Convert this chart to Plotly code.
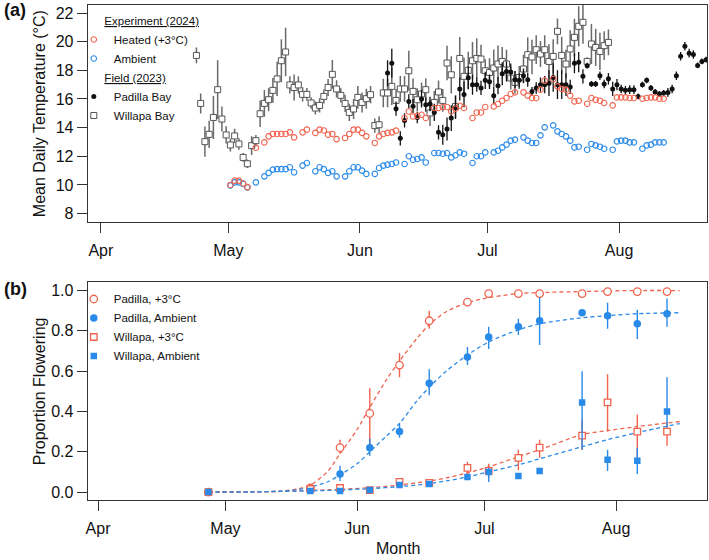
import pandas as pd
import plotly.graph_objects as go

# ---------------- Panel (a) data: daily means ----------------
exp_start = "2024-05-01"
heated = [10.0, 10.3, 10.3, 10.1, 9.85, None, 12.6, None, 12.97, 13.39,
          13.56, 13.56, 13.56, 13.56, 13.67, 13.32, None, 13.67, 13.86, None,
          13.63, 13.86, 13.8, 13.51, 13.56, 13.2, None, 13.28, 13.56, 13.86,
          13.86, 13.63, 13.39, None, 12.93, 13.39, 13.56, 13.63, 13.67, 13.79,
          None, 14.67, 15.13, 14.78, 14.83, 14.9, 14.67, None, 15.37, 15.37,
          15.44, 15.44, 15.13, 15.32, 15.53, 15.37, None, 14.67, 15.06, 15.06,
          15.44, None, 15.48, 15.65, 15.88, 16.07, 16.35, 16.46, None, 16.46,
          16.23, 16.07, 16.07, 16.65, 17.28, None, 17.39, 16.88, 16.7, 16.65,
          16.23, 15.83, 15.88, None, 15.67, 16.07, 15.95, 15.88, 15.72, None,
          15.55, 16.11, 16.11, 16.11, 16.07, 16.07, None, 16.02, 16.07, 16.11,
          16.11, 16.02, 16.02]
ambient = [9.97, 10.18, 10.18, 10.07, 9.83, None, 10.18, None, 10.6, 10.84,
           11.07, 11.1, 11.1, 11.1, 11.23, 10.88, None, 11.35, 11.53, None,
           10.95, 11.23, 11.1, 10.84, 10.95, 10.6, None, 10.6, 10.95, 11.23,
           11.23, 11.0, 10.77, None, 10.77, 11.18, 11.35, 11.42, 11.46, 11.57,
           None, 11.46, 12.0, 11.76, 11.81, 11.92, 11.57, None, 12.23, 12.23,
           12.18, 12.23, 11.92, 12.07, 12.27, 12.18, None, 11.53, 12.0, 12.0,
           12.27, None, 12.27, 12.39, 12.62, 12.81, 13.09, 13.16, None, 13.32,
           13.09, 12.93, 12.93, 13.46, 14.02, None, 14.16, 13.74, 13.56, 13.39,
           13.09, 12.62, 12.67, None, 12.46, 12.86, 12.76, 12.67, 12.53, None,
           12.46, 13.04, 13.09, 13.09, 12.97, 12.97, None, 12.53, 12.76, 12.81,
           12.97, 12.97, 12.97]

willapa_start = "2024-04-23"
willapa = [19.04, 15.69, 13.02, 13.53, 14.71, 16.65, 14.6, 13.49, 12.79, 13.42,
           12.86, 11.92, 11.48, 12.74, 13.09, 14.97, 15.69, 15.95, 16.6, 17.4,
           18.67, 19.28, 16.98, 16.8, 16.98, 16.32, 16.32, 15.72, 15.37, 15.55,
           16.18, 16.8, 17.72, 16.7, 16.25, 15.69, 15.06, 15.3, 16.11, 15.76,
           16.02, 16.3, 14.14, 14.2, 16.42, 16.42, 16.88, 15.9, 16.7, 16.7,
           17.97, 16.53, 15.95, 16.35, 16.65, 15.02, 15.76, 16.49, 15.9, 18.51,
           17.69, 15.48, 18.83, 17.58, 18.0, 18.67, 18.83, 18.79, 17.97, 17.85,
           18.16, 18.44, 18.62, 18.44, 17.46, 17.16, 17.5, 18.09, 19.09, 18.93,
           19.44, 19.14, 19.44, 18.62, 18.97, 20.72, 19.04, 18.44, 19.49, 20.3,
           21.07, 21.35, 18.62, 19.84, 19.6, 19.32, 19.72, 19.95]
willapa_err = [0.55, 0.7, 1.05, 0.95, 1.5, 2.05, 0.87, 0.6, 0.45, 0.5,
               0.4, 0.3, 0.3, 0.65, 0.4, 0.93, 0.93, 0.8, 0.87, 1.2,
               1.5, 1.7, 0.6, 0.9, 0.6, 0.5, 0.45, 0.4, 0.45, 0.5,
               0.5, 0.6, 1.0, 0.6, 0.5, 0.6, 0.6, 0.7, 0.8, 0.7,
               0.7, 0.6, 0.5, 0.6, 1.0, 1.0, 1.3, 0.8, 0.9, 0.9,
               1.4, 0.9, 0.8, 0.8, 0.8, 0.9, 0.8, 0.8, 0.8, 1.2,
               1.3, 0.8, 1.5, 1.3, 1.3, 1.3, 1.4, 1.0, 0.8, 1.0,
               1.3, 1.3, 1.0, 1.0, 0.8, 0.8, 0.8, 1.0, 1.2, 1.2,
               1.0, 0.9, 1.0, 1.2, 1.2, 0.9, 1.3, 1.0, 1.3, 1.3,
               1.4, 1.5, 0.3, 1.4, 1.3, 1.3, 1.0, 0.9]

padilla_start = "2024-06-07"
padilla = [17.81, 18.5, 15.32, 13.25, 14.5, 15.83, 15.5, 14.71, 16.0, 15.6,
           15.65, 15.06, 13.67, 13.5, 13.9, 14.67, 15.4, 16.7, 16.32, 17.48,
           17.0, 17.0, 16.77, 17.3, 17.2, 16.23, 16.93, 17.76, 17.92, 17.88,
           17.35, 17.3, 17.62, 17.35, 16.53, 16.77, 17.0, 17.0, 17.1, 17.5,
           17.0, 17.0, 17.0, 16.84, 18.5, 18.57, 17.58, 18.32, 17.05, 17.05,
           17.62, 17.05, 17.41, 16.7, 17.0, 16.7, 16.6, 16.65, 16.65, 16.18,
           17.0, 17.3, 16.77, 16.49, 16.35, 16.42, 16.46, 16.7, 17.62, 18.98,
           19.68, 19.2, 19.1, 18.34, 18.62, 18.74]
padilla_err = [0.9, 1.0, 0.5, 0.5, 0.5, 0.5, 0.5, 0.4, 0.6, 0.5,
               0.5, 0.6, 0.5, 0.7, 0.8, 0.9, 0.8, 0.8, 0.9, 0.8,
               0.7, 0.5, 0.5, 0.6, 0.5, 0.6, 0.6, 0.8, 0.7, 0.6,
               0.6, 0.5, 0.5, 0.5, 0.3, 0.4, 0.5, 0.6, 0.9, 1.0,
               1.0, 1.0, 0.8, 0.5, 0.7, 0.7, 0.5, 0.2, 0.2, 0.2,
               0.3, 0.3, 0.4, 0.5, 0.4, 0.3, 0.3, 0.3, 0.3, 0.2,
               0.2, 0.2, 0.2, 0.2, 0.2, 0.2, 0.3, 0.3, 0.3, 0.3,
               0.3, 0.3, 0.3, 0.2, 0.2, 0.2]

# ---------------- Panel (b) data: proportion flowering ----------------
b_dates = ["2024-04-27", "2024-05-21", "2024-05-28", "2024-06-04", "2024-06-11",
           "2024-06-18", "2024-06-27", "2024-07-02", "2024-07-09", "2024-07-14",
           "2024-07-24", "2024-07-30", "2024-08-06", "2024-08-13"]
pad_heat = [0.0, 0.02, 0.22, 0.39, 0.63, 0.85, 0.943, 0.985, 0.985, 0.985, 0.985, 0.995, 0.995, 0.995]
pad_heat_up = [0, 0.01, 0.04, 0.125, 0.06, 0.05, 0.01, 0.01, 0.008, 0.008, 0.008, 0.005, 0.005, 0.005]
pad_heat_dn = [0, 0.01, 0.03, 0.16, 0.06, 0.04, 0.01, 0.01, 0.008, 0.008, 0.008, 0.005, 0.005, 0.005]
pad_amb = [0.0, 0.01, 0.09, 0.22, 0.30, 0.54, 0.67, 0.77, 0.82, 0.85, 0.89, 0.875, 0.835, 0.885]
pad_amb_up = [0, 0.005, 0.04, 0.045, 0.04, 0.07, 0.05, 0.05, 0.04, 0.115, 0.01, 0.065, 0.07, 0.075]
pad_amb_dn = [0, 0.005, 0.035, 0.04, 0.03, 0.06, 0.04, 0.06, 0.04, 0.12, 0.01, 0.065, 0.075, 0.065]
wil_heat = [0.0, 0.015, 0.02, 0.01, 0.05, 0.045, 0.12, 0.105, 0.17, 0.22, 0.28, 0.445, 0.30, 0.30]
wil_heat_up = [0, 0.01, 0.01, 0.005, 0.01, 0.01, 0.03, 0.035, 0.04, 0.04, 0.08, 0.14, 0.085, 0.05]
wil_heat_dn = [0, 0.01, 0.01, 0.005, 0.01, 0.01, 0.04, 0.035, 0.06, 0.05, 0.07, 0.145, 0.16, 0.07]
wil_amb = [0.0, 0.005, 0.005, 0.01, 0.035, 0.04, 0.075, 0.10, 0.08, 0.105, 0.445, 0.16, 0.155, 0.40]
wil_amb_up = [0, 0.003, 0.003, 0.005, 0.01, 0.01, 0.015, 0.02, 0.005, 0.015, 0.155, 0.05, 0.065, 0.17]
wil_amb_dn = [0, 0.003, 0.003, 0.005, 0.01, 0.01, 0.015, 0.05, 0.005, 0.015, 0.235, 0.055, 0.065, 0.08]

# fitted curves
fit_pad_dates = ["2024-04-27", "2024-05-07", "2024-05-14", "2024-05-18", "2024-05-21",
                 "2024-05-25", "2024-05-28", "2024-06-01", "2024-06-04", "2024-06-08",
                 "2024-06-11", "2024-06-15", "2024-06-18", "2024-06-22", "2024-06-27",
                 "2024-07-02", "2024-07-09", "2024-07-14", "2024-07-24", "2024-07-30",
                 "2024-08-06", "2024-08-16"]
fit_pad_heat = [0.0, 0.0, 0.005, 0.015, 0.035, 0.10, 0.19, 0.31, 0.42, 0.56,
                0.65, 0.76, 0.83, 0.895, 0.94, 0.965, 0.985, 0.99, 0.995, 0.998,
                1.0, 1.0]
fit_pad_amb = [0.0, 0.0, 0.005, 0.012, 0.025, 0.05, 0.085, 0.14, 0.20, 0.28,
               0.34, 0.45, 0.52, 0.60, 0.68, 0.745, 0.805, 0.835, 0.865, 0.875,
               0.885, 0.89]
fit_wil_dates = ["2024-04-27", "2024-05-14", "2024-05-21", "2024-05-28", "2024-06-04",
                 "2024-06-11", "2024-06-18", "2024-06-22", "2024-06-27", "2024-07-02",
                 "2024-07-09", "2024-07-14", "2024-07-24", "2024-07-30", "2024-08-06",
                 "2024-08-16"]
fit_wil_heat = [0.0, 0.003, 0.008, 0.013, 0.022, 0.035, 0.055, 0.07, 0.095, 0.125,
                0.175, 0.21, 0.285, 0.305, 0.325, 0.35]
fit_wil_amb = [0.0, 0.003, 0.006, 0.01, 0.017, 0.027, 0.042, 0.055, 0.075, 0.10,
               0.135, 0.165, 0.225, 0.26, 0.295, 0.34]

month_ticks = ["2024-04-01", "2024-05-01", "2024-06-01", "2024-07-01", "2024-08-01"]
month_labels = ["Apr", "May", "Jun", "Jul", "Aug"]
temp_ticks = [8, 10, 12, 14, 16, 18, 20, 22]
prop_ticks = [0.0, 0.2, 0.4, 0.6, 0.8, 1.0]

# ---------------- styling ----------------
RED = "#F0644F"
BLUE = "#2A8AE8"
GRAY = "#555555"
BLACK = "#111111"
AX = "#333333"
FONT = "Liberation Sans, Arial, Helvetica, sans-serif"
W, H = 709, 560


def daily(start, values):
    return pd.date_range(start, periods=len(values), freq="D") + pd.Timedelta(hours=12)


fig = go.Figure()

# panel (a)
fig.add_trace(go.Scatter(
    x=daily(willapa_start, willapa), y=willapa, mode="markers", name="Willapa Bay",
    legendgroup="field", legendgrouptitle=dict(text="\u00a0" * 8 + "<span style='text-decoration:underline'>Field (2023)</span>"),
    legendrank=4, legend="legend",
    marker=dict(symbol="square", size=6, color="white", line=dict(color=GRAY, width=1)),
    error_y=dict(type="data", array=willapa_err, width=0, thickness=1.5, color="#6a6a6a"),
    xaxis="x", yaxis="y"))
fig.add_trace(go.Scatter(
    x=daily(padilla_start, padilla), y=padilla, mode="markers", name="Padilla Bay",
    legendgroup="field", legendrank=3, legend="legend",
    marker=dict(symbol="circle", size=5, color=BLACK),
    error_y=dict(type="data", array=padilla_err, width=0, thickness=1.3, color=BLACK),
    xaxis="x", yaxis="y"))
fig.add_trace(go.Scatter(
    x=daily(exp_start, ambient), y=ambient, mode="markers", name="Ambient",
    legendgroup="exp", legendrank=2, legend="legend",
    marker=dict(symbol="circle-open", size=5.5, color=BLUE, line=dict(width=1.1)),
    xaxis="x", yaxis="y"))
fig.add_trace(go.Scatter(
    x=daily(exp_start, heated), y=heated, mode="markers", name="Heated (+3°C)",
    legendgroup="exp", legendrank=1, legend="legend",
    legendgrouptitle=dict(text="\u00a0" * 8 + "<span style='text-decoration:underline'>Experiment (2024)</span>"),
    marker=dict(symbol="circle-open", size=5.5, color=RED, line=dict(width=1.1)),
    xaxis="x", yaxis="y"))

# panel (b) fitted curves
for xs, ys, col in [(fit_pad_dates, fit_pad_heat, RED), (fit_pad_dates, fit_pad_amb, BLUE),
                    (fit_wil_dates, fit_wil_heat, RED), (fit_wil_dates, fit_wil_amb, BLUE)]:
    fig.add_trace(go.Scatter(x=xs, y=ys, mode="lines", showlegend=False, hoverinfo="skip",
                             line=dict(color=col, width=1.3, dash="4px,3px", shape="spline", smoothing=0.8),
                             xaxis="x2", yaxis="y2"))

b_series = [
    ("Padilla, +3°C", pad_heat, pad_heat_up, pad_heat_dn, dict(symbol="circle", color="white", line=dict(color=RED, width=1.3)), RED, 1),
    ("Padilla, Ambient", pad_amb, pad_amb_up, pad_amb_dn, dict(symbol="circle", color=BLUE, line=dict(color=BLUE, width=0)), BLUE, 2),
    ("Willapa, +3°C", wil_heat, wil_heat_up, wil_heat_dn, dict(symbol="square", color="white", line=dict(color=RED, width=1.3)), RED, 3),
    ("Willapa, Ambient", wil_amb, wil_amb_up, wil_amb_dn, dict(symbol="square", color=BLUE, line=dict(color=BLUE, width=0)), BLUE, 4),
]
for name, ys, up, dn, mk, col, rank in b_series:
    mk = dict(mk)
    mk["size"] = 7.5 if "circle" in mk["symbol"] else 6.5
    fig.add_trace(go.Scatter(
        x=b_dates, y=ys, mode="markers", name=name, legend="legend2", legendrank=rank,
        marker=mk,
        error_y=dict(type="data", symmetric=False, array=up, arrayminus=dn, width=0, thickness=1.4, color=col),
        xaxis="x2", yaxis="y2"))


def px_x(p):
    return p / W


def px_y(p):
    return 1 - p / H


axis_common = dict(showline=True, mirror=True, linecolor=AX, linewidth=1.2, ticks="outside",
                   ticklen=10, tickwidth=1.2, tickcolor=AX, showgrid=False, zeroline=False,
                   tickfont=dict(family=FONT, size=16, color="#111111"))

fig.update_layout(
    width=W, height=H, margin=dict(l=0, r=0, t=0, b=0),
    paper_bgcolor="white", plot_bgcolor="white",
    font=dict(family=FONT, size=12, color="#111111"),
    xaxis=dict(domain=[px_x(86), px_x(707)], anchor="y", type="date",
               range=["2024-03-28 22:00", "2024-08-21 17:00"],
               tickvals=month_ticks, ticktext=month_labels, ticklabelstandoff=4, **axis_common),
    yaxis=dict(domain=[px_y(222), px_y(5)], anchor="x", range=[7.44, 22.56],
               tickvals=temp_ticks, **axis_common),
    xaxis2=dict(domain=[px_x(86), px_x(707)], anchor="y2", type="date",
                range=["2024-03-29 14:00", "2024-08-22 10:00"],
                tickvals=month_ticks, ticktext=month_labels, ticklabelstandoff=4, **axis_common),
    yaxis2=dict(domain=[px_y(501), px_y(283)], anchor="x2", range=[-0.04, 1.04],
                tickvals=prop_ticks, tickformat=".1f", **axis_common),
    legend=dict(x=px_x(72), y=px_y(6), xanchor="left", yanchor="top", bgcolor="rgba(0,0,0,0)",
                font=dict(family=FONT, size=11.5), grouptitlefont=dict(family=FONT, size=11.5),
                tracegroupgap=0, itemwidth=30),
    legend2=dict(x=px_x(72), y=px_y(285), xanchor="left", yanchor="top", bgcolor="rgba(0,0,0,0)",
                 font=dict(family=FONT, size=11.5), itemwidth=30, traceorder="normal"),
    showlegend=True,
)

ann = [
    dict(text="<b>(a)</b>", x=px_x(0), y=px_y(10), xanchor="left", yanchor="middle", font=dict(size=18)),
    dict(text="<b>(b)</b>", x=px_x(0), y=px_y(290), xanchor="left", yanchor="middle", font=dict(size=18)),
    dict(text="Mean Daily Temperature (°C)", x=px_x(37), y=px_y(113.5), textangle=-90,
         xanchor="center", yanchor="middle", font=dict(size=16)),
    dict(text="Proportion Flowering", x=px_x(37), y=px_y(392), textangle=-90,
         xanchor="center", yanchor="middle", font=dict(size=16)),
    dict(text="Month", x=px_x(397), y=px_y(549), xanchor="center", yanchor="middle", font=dict(size=16)),
]
for a in ann:
    a.update(xref="paper", yref="paper", showarrow=False)
    a["font"] = dict(family=FONT, color="#111111", **a["font"])
fig.update_layout(annotations=ann)

fig.write_html("out.html")
